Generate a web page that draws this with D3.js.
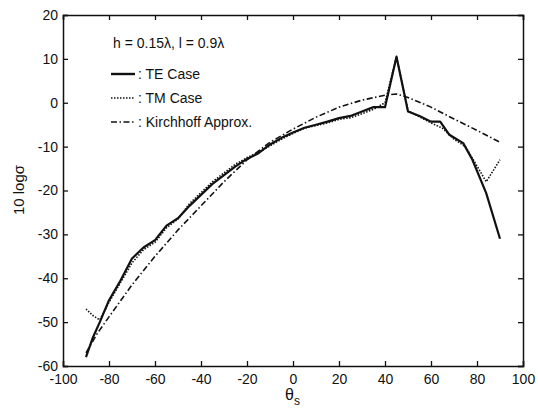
<!DOCTYPE html>
<html>
<head>
<meta charset="utf-8">
<script src="https://cdn.jsdelivr.net/npm/d3@7"></script>
<style>
  body { margin: 0; background: #fff; }
  text { font-family: "Liberation Sans", Arial, sans-serif; fill: #111; }
</style>
</head>
<body>
<svg width="538" height="412"></svg>
<script>
// scattering angle (deg) and 10 log sigma for each case
var teAngles = [-90, -87, -84, -80, -75, -70, -65, -60, -55, -50, -45, -40, -35, -30, -25, -20, -15, -10, -5, 0, 5, 10, 15, 20, 25, 30, 35, 40, 45, 50, 55, 60, 64, 68, 74, 78, 84, 90];
var teValues = [-58, -53.5, -50, -45, -40.5, -35.5, -33, -31.3, -28, -26.3, -23.5, -21, -18.5, -16.5, -14.5, -12.8, -11.5, -9.5, -8, -6.8, -5.7, -5, -4.3, -3.5, -3, -2, -1, -1, 10.5, -2, -3, -4.3, -4.3, -7.3, -9.2, -13, -20.6, -31];

var tmAngles = [-90, -87, -84, -80, -75, -70, -65, -60, -55, -50, -45, -40, -35, -30, -25, -20, -15, -10, -5, 0, 5, 10, 15, 20, 25, 30, 35, 40, 45, 50, 55, 60, 65, 70, 75, 81, 84, 90];
var tmValues = [-47, -48.5, -49.5, -45.5, -41, -36.5, -33.5, -31.8, -28.5, -26.5, -23, -20.5, -18, -16, -14, -12.5, -11.3, -9.8, -8.3, -7, -5.8, -5.2, -4.6, -3.8, -3.4, -2.5, -1.5, 0, 10.5, -1.8, -3.2, -4.6, -5.8, -8.3, -10, -15.3, -18, -13];

var kaAngles = [-90, -85, -80, -70, -60, -50, -40, -30, -20, -10, 0, 10, 20, 30, 40, 45, 50, 60, 70, 80, 90];
var kaValues = [-57, -52.5, -48.8, -41.5, -35, -29, -23.5, -18, -13, -9, -6, -3.3, -1, 0.6, 1.7, 2, 1.2, -1, -3.7, -6.3, -9];

var xTicks = [-100, -80, -60, -40, -20, 0, 20, 40, 60, 80, 100];
var yTicks = [20, 10, 0, -10, -20, -30, -40, -50, -60];

var padL = 63, padT = 15, padR = 523, padB = 366;

var svg = d3.select('svg');

var x = d3.scaleLinear().domain([-100, 100]).range([padL, padR]);
var y = d3.scaleLinear().domain([-60, 20]).range([padB, padT]);

// plain hyphen minus, like the original
var fmt = function(d) { return String(d); };

// inward ticks on all four sides, matlab style
var tk = 5;
svg.append('g')
    .attr('transform', 'translate(0,' + padB + ')')
    .call(d3.axisBottom(x).tickValues(xTicks).tickSize(-tk).tickPadding(8).tickFormat(fmt))
    .call(styleAxis);
svg.append('g')
    .attr('transform', 'translate(0,' + padT + ')')
    .call(d3.axisTop(x).tickValues(xTicks).tickSize(-tk).tickFormat(''))
    .call(styleAxis);
svg.append('g')
    .attr('transform', 'translate(' + padL + ',0)')
    .call(d3.axisLeft(y).tickValues(yTicks).tickSize(-tk).tickPadding(5).tickFormat(fmt))
    .call(styleAxis);
svg.append('g')
    .attr('transform', 'translate(' + padR + ',0)')
    .call(d3.axisRight(y).tickValues(yTicks).tickSize(-tk).tickFormat(''))
    .call(styleAxis);

function styleAxis(g) {
    g.select('.domain').attr('stroke', '#111').attr('stroke-width', 1.5);
    g.selectAll('.tick line').attr('stroke', '#111').attr('stroke-width', 1.3);
    g.selectAll('.tick text').style('font-size', '14px').attr('fill', '#111');
}

var line = d3.line()
    .x(function(d) { return x(d[0]); })
    .y(function(d) { return y(d[1]); });

function addCurve(angles, values, dash, w) {
    svg.append('path')
        .datum(d3.zip(angles, values))
        .attr('d', line)
        .attr('fill', 'none')
        .attr('stroke', '#111')
        .attr('stroke-width', w)
        .attr('stroke-dasharray', dash)
        .attr('stroke-linejoin', 'round');
}

addCurve(kaAngles, kaValues, '6,2.5,1.5,2.5', 1.6);
addCurve(tmAngles, tmValues, '1.5,1.5', 1.6);
addCurve(teAngles, teValues, null, 2.2);

// legend
svg.append('text')
    .attr('x', 113).attr('y', 48)
    .style('font-size', '14px')
    .text('h = 0.15\u03bb, l = 0.9\u03bb');

var legendItems = [
    { label: ': TE Case', dash: null, w: 2.4 },
    { label: ': TM Case', dash: '1.5,1.5', w: 1.6 },
    { label: ': Kirchhoff Approx.', dash: '6,2.5,1.5,2.5', w: 1.6 }
];
legendItems.forEach(function(item, i) {
    var yy = 74 + i * 24;
    svg.append('line')
        .attr('x1', 111).attr('x2', 135)
        .attr('y1', yy).attr('y2', yy)
        .attr('stroke', '#111')
        .attr('stroke-width', item.w)
        .attr('stroke-dasharray', item.dash);
    svg.append('text')
        .attr('x', 138).attr('y', yy + 4.5)
        .style('font-size', '14px')
        .text(item.label);
});

// axis labels
var xl = svg.append('text')
    .attr('x', 285).attr('y', 400)
    .style('font-size', '16px');
xl.append('tspan').text('\u03b8');
xl.append('tspan').attr('dy', 5).style('font-size', '12px').text('s');

svg.append('text')
    .attr('transform', 'translate(24,190) rotate(-90)')
    .attr('text-anchor', 'middle')
    .style('font-size', '15px')
    .text('10 log\u03c3');
</script>
</body>
</html>
